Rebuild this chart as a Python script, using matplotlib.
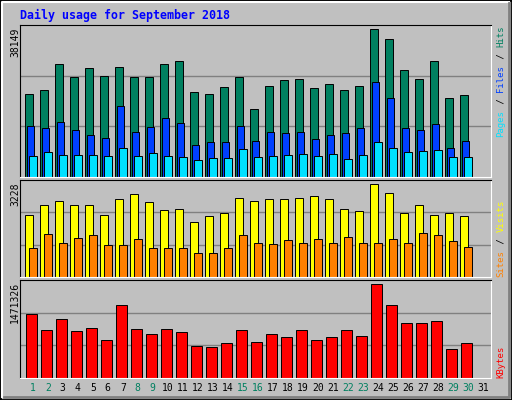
import matplotlib.pyplot as plt
from matplotlib.patches import Rectangle
from matplotlib.lines import Line2D

# donnees
days = list(range(1, 32))
hits = [21320, 22360, 29090, 25720, 28050, 25980, 28310, 25720, 25720, 29090,
        29870, 21840, 21320, 23130, 25720, 17690, 23390, 24950, 25200, 22870,
        23910, 22360, 23390, 38149, 35560, 27540, 25200, 29870, 20280, 21060]
files = [13290, 12770, 14330, 12250, 10960, 10180, 18210, 11740, 13030, 15360,
         14070, 8370, 9150, 9150, 13290, 9410, 11740, 11480, 11740, 9920,
         10960, 11480, 12770, 24420, 20280, 12770, 12250, 13810, 7590, 9410]
pages = [5520, 6560, 5780, 5780, 5780, 5520, 7590, 5520, 6300, 5520,
         5260, 4490, 5010, 5010, 7340, 5260, 5520, 5780, 6040, 5520,
         6040, 4750, 5780, 9150, 7590, 6560, 6820, 7080, 5260, 5260]
visits = [2179, 2493, 2633, 2493, 2493, 2179, 2703, 2878, 2598, 2353,
          2388, 1934, 2144, 2248, 2738, 2633, 2703, 2703, 2738, 2808,
          2703, 2388, 2318, 3228, 2913, 2248, 2493, 2179, 2248, 2144]
sites = [1025, 1515, 1200, 1375, 1480, 1130, 1130, 1340, 1025, 1025,
         1025, 850, 850, 1025, 1480, 1200, 1165, 1305, 1200, 1340,
         1200, 1410, 1200, 1200, 1340, 1200, 1550, 1480, 1270, 1060]
kbytes = [1004190, 746430, 923640, 730320, 778650, 601440, 1149180, 762540, 681990, 762540,
          714210, 504780, 488670, 553110, 746430, 569220, 681990, 649770, 746430, 601440,
          649770, 746430, 665880, 1471326, 1149180, 859200, 859200, 891420, 456450, 553110]
weekend = [1, 2, 8, 9, 15, 16, 22, 23, 29, 30]

BG = '#C0C0C0'
C_HITS, C_FILES, C_PAGES = '#008060', '#0040FF', '#00E0FF'
C_VIS, C_SITES, C_KB = '#FFFF00', '#FF8000', '#FF0000'
MONO = 'DejaVu Sans Mono'

fig = plt.figure(figsize=(5.12, 4), dpi=100, facecolor=BG)
W, H = 512, 400

def px(x, y):
    return x / W, 1 - y / H

# cadre exterieur
fig.patches.append(Rectangle((0, 0), 1, 1, transform=fig.transFigure, fill=False,
                             edgecolor='black', lw=2))
fig.lines.append(Line2D([2/W, 2/W, 1-3/W], [3/H, 1-2/H, 1-2/H], transform=fig.transFigure,
                        color='white', lw=1.5))
fig.lines.append(Line2D([4/W, 1-3/W, 1-3/W], [3/H, 3/H, 1-3/H], transform=fig.transFigure,
                        color='#808080', lw=2))

def panneau(top, bot, ymax, series):
    ax = fig.add_axes([20/W, 1 - bot/H, 471/W, (bot-top)/H], facecolor=BG)
    ax.set_xlim(-0.353, 31.05)
    ax.set_ylim(0, ymax)
    for f in (1/3, 2/3):
        ax.axhline(ymax*f, color='#808080', lw=1, zorder=0)
    x0 = [d - 1 for d in days[:30]]
    for vals, off, w, col in series:
        ax.bar([x + off for x in x0], vals, width=w, align='edge', color=col,
               edgecolor='black', lw=0.7, zorder=2)
    ax.set_xticks([])
    ax.set_yticks([])
    for s in ('left', 'top'):
        ax.spines[s].set_color('black')
    for s in ('right', 'bottom'):
        ax.spines[s].set_color('white')
    return ax

panneau(25, 177, 39260, [(hits, 0, 0.49, C_HITS), (files, 0.11, 0.5, C_FILES),
                         (pages, 0.27, 0.49, C_PAGES)])
panneau(180, 277, 3382, [(visits, 0, 0.49, C_VIS), (sites, 0.27, 0.49, C_SITES)])
ax3 = panneau(280, 378, 1535790, [(kbytes, 0.07, 0.69, C_KB)])

# titre
fig.text(*px(20, 15), 'Daily usage for September 2018', color='#0000FF', family=MONO,
         fontsize=8.4, fontweight='bold', va='center', ha='left')

# valeurs max a gauche
for y, t in ((28, '38149'), (182, '3228'), (282, '1471326')):
    fig.text(*px(15, y), t, rotation=90, family=MONO, fontsize=7, va='top', ha='center')

# legendes a droite, morceau par morceau
def legende(ybas, parts, cw=5.6):
    y = ybas
    for t, c in parts:
        fig.text(*px(501, y), t, rotation=90, family=MONO, fontsize=6.5, color=c,
                 va='bottom', ha='center')
        y -= cw * len(t)

legende(137, [('Pages', C_PAGES), (' / ', 'black'), ('Files', C_FILES),
              (' / ', 'black'), ('Hits', C_HITS)])
legende(277, [('Sites', C_SITES), (' / ', 'black'), ('Visits', C_VIS)])
legende(378, [('KBytes', C_KB)])

# jours
for d in days:
    col = C_HITS if d in weekend else 'black'
    ax3.text(d - 1 + 0.5, -0.1, str(d), transform=ax3.get_xaxis_transform(),
             ha='center', va='center', family=MONO, fontsize=7, color=col)

fig.savefig('out.png', dpi=100, facecolor=BG)
